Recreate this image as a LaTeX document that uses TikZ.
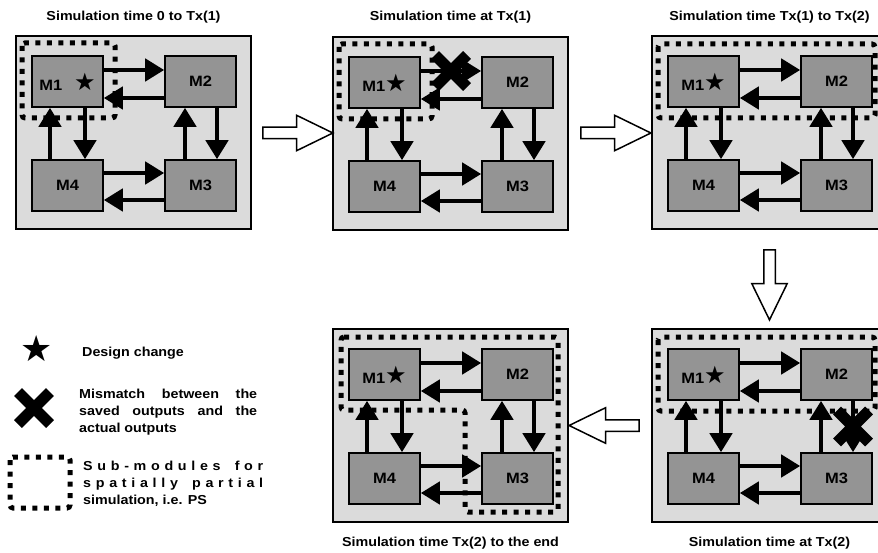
\documentclass[tikz,border=0pt]{standalone}
\usepackage{fontspec}
\setmainfont[FakeStretch=1.1]{Liberation Sans}
\newfontfamily\starfont{DejaVu Sans}
\usetikzlibrary{arrows.meta,shapes.arrows,calc}

\definecolor{panelgray}{gray}{0.86}
\definecolor{modgray}{gray}{0.58}

\newcommand\dstar{{\starfont\fontsize{24}{24}\selectfont ★}}

\tikzset{
  panel/.style={draw,line width=2.5pt,fill=panelgray,minimum width=235pt,minimum height=193pt,inner sep=0pt},
  module/.style={draw,line width=1.6pt,fill=modgray,minimum width=71pt,minimum height=51pt,inner sep=0pt,font=\fontsize{15}{15}\selectfont\bfseries},
  link/.style={line width=4.5pt,-{Triangle[length=19pt,width=22pt]}},
  psbox/.style={line width=5pt,dash pattern=on 5pt off 6.5pt},
  stepper/.style={single arrow,draw,line width=1.5pt,fill=white,minimum height=70pt,inner xsep=0pt,inner ysep=5pt,single arrow head extend=12pt,single arrow tip angle=52},
  upright/.style={inner xsep=5pt,inner ysep=0pt},
  caption/.style={font=\fontsize{13}{13}\selectfont\bfseries},
  legend/.style={font=\fontsize{13}{17}\selectfont\bfseries,inner sep=0pt,anchor=west,align=left},
  xmark/.pic={\draw[line width=11pt] (-16,-16) -- (16,16) (-16,16) -- (16,-16);}
}

\begin{document}
\begin{tikzpicture}[x=1pt,y=-1pt]
  \useasboundingbox (0,0) rectangle (878,553);
  % five snapshots of the four modules
  \foreach \p/\px/\py/\ty/\mlab/\snaptitle in {
      a/16/36/-19/{M1\hspace{12pt}\dstar}/{Simulation time 0 to Tx(1)},
      b/333/37/-20/{M1\dstar}/{Simulation time at Tx(1)},
      c/652/36/-19/{M1\dstar}/{Simulation time Tx(1) to Tx(2)},
      d/652/329/214/{M1\dstar}/{Simulation time at Tx(2)},
      e/333/329/214/{M1\dstar}/{Simulation time Tx(2) to the end}} {
    \begin{scope}[shift={(\px,\py)}]
      \node[panel]   (P\p)  at (117.5,96.5)  {};
      \node[caption] (T\p)  at (117.5,\ty)   {\snaptitle};
      \node[module]  (M1\p) at (51.5,45.5)   {\mlab};
      \node[module]  (M2\p) at (184.5,45.5)  {M2};
      \node[module]  (M3\p) at (184.5,149.5) {M3};
      \node[module]  (M4\p) at (51.5,149.5)  {M4};
      \draw[link] ([yshift=11.5pt]M1\p.east) -- ([yshift=11.5pt]M2\p.west);
      \draw[link] ([yshift=-16.5pt]M2\p.west) -- ([yshift=-16.5pt]M1\p.east);
      \draw[link] ([xshift=17.5pt]M1\p.south) -- ([xshift=17.5pt]M4\p.north);
      \draw[link] ([xshift=-17.5pt]M4\p.north) -- ([xshift=-17.5pt]M1\p.south);
      \draw[link] ([xshift=16.5pt]M2\p.south) -- ([xshift=16.5pt]M3\p.north);
      \draw[link] ([xshift=-15.5pt]M3\p.north) -- ([xshift=-15.5pt]M2\p.south);
      \draw[link] ([yshift=12.5pt]M4\p.east) -- ([yshift=12.5pt]M3\p.west);
      \draw[link] ([yshift=-14.5pt]M3\p.west) -- ([yshift=-14.5pt]M4\p.east);
    \end{scope}
  }

  % steps between snapshots
  \node[stepper] (s1) at ($(Pa.east)!0.5!(Pb.west)$) {};
  \node[stepper] (s2) at ($(Pb.east)!0.5!(Pc.west)$) {};
  \node[stepper,upright,shape border rotate=270] (s3) at ($(Pc.south)!0.5!(Pd.north)$) {};
  \node[stepper,shape border rotate=180] (s4) at ($(Pd.west)!0.5!(Pe.east)$) {};

  % partial simulation regions
  \draw[psbox,rounded corners=3pt] (22,43) rectangle (115,118);
  \draw[psbox,rounded corners=3pt] (339,44) rectangle (432,119);
  \draw[psbox,rounded corners=3pt] (658,44) rectangle (875,118);
  \draw[psbox,rounded corners=3pt] (658,337) rectangle (875,411);
  \draw[psbox,rounded corners=3pt] (341,337) -- (558,337) -- (558,512) -- (465,512)
    -- (465,410) -- (341,410) -- cycle;

  % mismatches
  \pic at ($([yshift=11.5pt]M1b.east)!0.5!([yshift=11.5pt]M2b.west)$) {xmark};
  \pic at ($([xshift=16.5pt]M2d.south)!0.5!([xshift=16.5pt]M3d.north)$) {xmark};

  % legend
  \node (kstar) at (37,349) {{\starfont\fontsize{36}{36}\selectfont ★}};
  \node[legend] (tstar) at (82,353) {Design change};
  \pic at (34,408) {xmark};
  \node[legend] (tmis) at (79,412) {\makebox[178pt][s]{Mismatch between the}\\
    \makebox[178pt][s]{saved outputs and the}\\ actual outputs};
  \draw[psbox,rounded corners=3pt] (10,457) rectangle (70,508);
  \node[legend] (tps) at (83,484) {\makebox[180pt][s]{S\hfill u\hfill b\hfill -\hfill m\hfill o\hfill d\hfill u\hfill l\hfill e\hfill s\hfill\hfill\hfill f\hfill o\hfill r}\\
    \makebox[180pt][s]{s\hfill p\hfill a\hfill t\hfill i\hfill a\hfill l\hfill l\hfill y\hfill\hfill\hfill p\hfill a\hfill r\hfill t\hfill i\hfill a\hfill l}\\
    simulation, i.e. PS};
\end{tikzpicture}
\end{document}
